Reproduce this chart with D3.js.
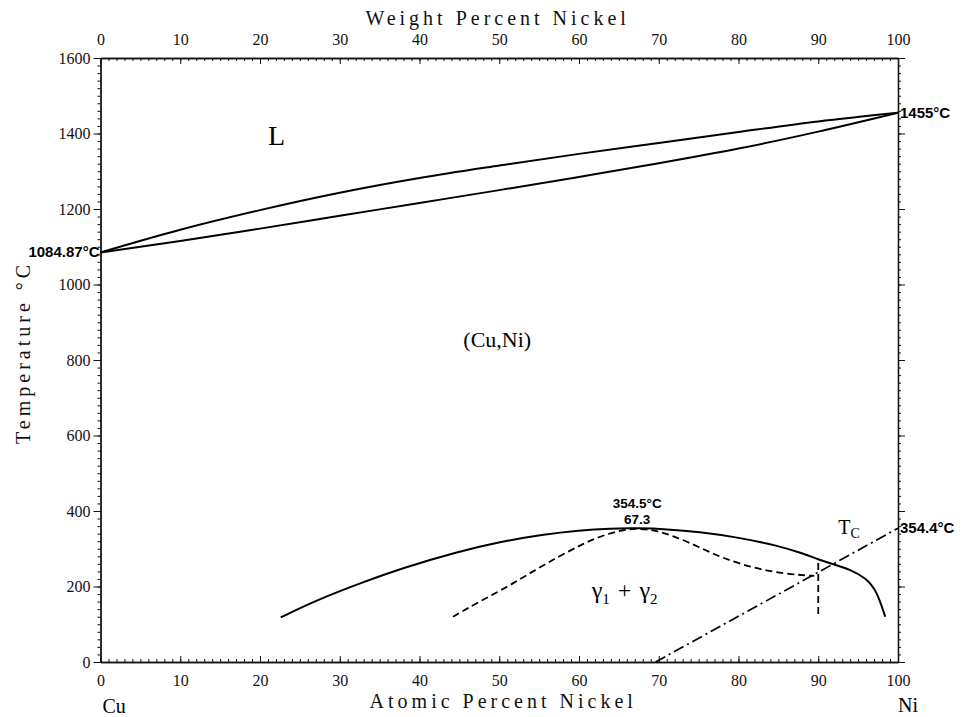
<!DOCTYPE html>
<html>
<head>
<meta charset="utf-8">
<script src="https://cdn.jsdelivr.net/npm/d3@7"></script>
<style>
	body { margin: 0; background: #fff; }
	.tick text { font-family: "Liberation Serif", "DejaVu Serif", serif; font-size: 16px; fill: #111; }
	.domain, .tick line { stroke: #111; }
	.title { font-family: "Liberation Serif", serif; font-size: 20px; letter-spacing: 4px; fill: #111; }
	.note { font-family: "Liberation Sans Narrow", "Liberation Sans", sans-serif; font-weight: bold; font-size: 15px; fill: #000; }
	.phase { font-family: "Liberation Serif", serif; fill: #000; }
	.curve { fill: none; stroke: #000; stroke-width: 2; }
</style>
</head>
<body>
<div id="container"></div>
<script>
// Cu-Ni phase diagram
var atomicTicks = [0, 10, 20, 30, 40, 50, 60, 70, 80, 90, 100];
var weightTicks = [0, 10, 20, 30, 40, 50, 60, 70, 80, 90, 100];
var tempTicks = [0, 200, 400, 600, 800, 1000, 1200, 1400, 1600];

// liquidus and solidus (at.% Ni, degC)
var liquidus = [[0, 1084.87], [10, 1145], [20, 1197], [30, 1243], [40, 1282], [50, 1315],
	[60, 1346], [70, 1375], [80, 1404], [90, 1432], [100, 1455]];
var solidus = [[0, 1084.87], [10, 1115], [20, 1148], [30, 1182], [40, 1216], [50, 1250],
	[60, 1285], [70, 1321], [80, 1360], [90, 1405], [100, 1455]];

// miscibility gap
var gapSolid = [[22.6, 118], [27, 163], [32.6, 209], [38, 250], [45, 293], [50, 318], [55.5, 338],
	[60, 349], [64, 354], [67.3, 354.5], [71, 352], [75, 345], [80, 330], [85, 308],
	[88, 288], [90, 272], [92, 258], [94, 245], [96, 222], [97.3, 190], [98.4, 120]];
var gapDashed = [[44.2, 120], [47.5, 160], [51.3, 202], [54.5, 244], [57.6, 281], [60.5, 313],
	[63, 336], [65.5, 350], [67.3, 354], [69.5, 349], [72, 333], [75, 305], [78, 275], [82, 248],
	[86, 233], [89.5, 228]];
var gapVertical = [[90, 262], [90, 118]];

// Curie temperature line
var curie = [[69.6, 0], [100, 354.4]];

var width = 964, height = 717;
var margin = {top: 58, right: 66, bottom: 55, left: 100.5};

var svg = d3.select("#container").append("svg")
	.attr("width", width)
	.attr("height", height);

var x = d3.scaleLinear().domain([0, 100]).range([margin.left, width - margin.right]);
var y = d3.scaleLinear().domain([0, 1600]).range([height - margin.bottom, margin.top]);

var minorX = d3.range(0, 101, 1);
var minorY = d3.range(0, 1601, 20);

// bottom axis
svg.append("g")
	.attr("transform", "translate(0," + y(0) + ")")
	.call(d3.axisBottom(x).tickValues(minorX).tickSizeInner(-3).tickSizeOuter(0).tickFormat(""));
svg.append("g")
	.attr("transform", "translate(0," + y(0) + ")")
	.call(d3.axisBottom(x).tickValues(atomicTicks).tickSizeInner(-6).tickSizeOuter(0).tickPadding(13).tickFormat(d3.format("d")));

// top axis
svg.append("g")
	.attr("transform", "translate(0," + y(1600) + ")")
	.call(d3.axisTop(x).tickValues(minorX).tickSizeInner(-3).tickSizeOuter(0).tickFormat(""));
svg.append("g")
	.attr("transform", "translate(0," + y(1600) + ")")
	.call(d3.axisTop(x).tickValues(weightTicks).tickSizeInner(-6).tickSizeOuter(0).tickPadding(13).tickFormat(d3.format("d")));

// left axis
svg.append("g")
	.attr("transform", "translate(" + x(0) + ",0)")
	.call(d3.axisLeft(y).tickValues(minorY).tickSizeInner(3).tickSizeOuter(0).tickFormat(""));
svg.append("g")
	.attr("transform", "translate(" + x(0) + ",0)")
	.call(d3.axisLeft(y).tickValues(tempTicks).tickSizeInner(7).tickSizeOuter(0).tickPadding(3).tickFormat(d3.format("d")));

// right axis
svg.append("g")
	.attr("transform", "translate(" + x(100) + ",0)")
	.call(d3.axisRight(y).tickValues(minorY).tickSizeInner(3).tickSizeOuter(0).tickFormat(""));
svg.append("g")
	.attr("transform", "translate(" + x(100) + ",0)")
	.call(d3.axisRight(y).tickValues(tempTicks).tickSizeInner(7).tickSizeOuter(0).tickFormat(""));

svg.selectAll(".domain").style("stroke-width", 1.3);

var line = d3.line()
	.x(function(d) { return x(d[0]); })
	.y(function(d) { return y(d[1]); })
	.curve(d3.curveMonotoneX);
var smooth = d3.line()
	.x(function(d) { return x(d[0]); })
	.y(function(d) { return y(d[1]); })
	.curve(d3.curveBasis);
var straight = d3.line()
	.x(function(d) { return x(d[0]); })
	.y(function(d) { return y(d[1]); });

svg.append("path").attr("class", "curve").attr("d", line(liquidus));
svg.append("path").attr("class", "curve").attr("d", line(solidus));
svg.append("path").attr("class", "curve").attr("d", smooth(gapSolid));
svg.append("path").attr("class", "curve")
	.style("stroke-width", 1.8)
	.style("stroke-dasharray", "7,4")
	.attr("d", smooth(gapDashed));
svg.append("path").attr("class", "curve")
	.style("stroke-width", 1.8)
	.style("stroke-dasharray", "7,4")
	.attr("d", straight(gapVertical));
svg.append("path").attr("class", "curve")
	.style("stroke-width", 1.7)
	.style("stroke-dasharray", "11,4,2,4")
	.attr("d", straight(curie));

// axis titles
svg.append("text").attr("class", "title")
	.attr("x", x(49.8)).attr("y", 25)
	.attr("text-anchor", "middle")
	.text("Weight Percent Nickel");
svg.append("text").attr("class", "title")
	.attr("x", x(50.5)).attr("y", 708)
	.attr("text-anchor", "middle")
	.text("Atomic Percent Nickel");
svg.append("text").attr("class", "title")
	.attr("transform", "translate(30," + y(820) + ") rotate(-90)")
	.attr("text-anchor", "middle")
	.text("Temperature °C");

svg.append("text").attr("class", "phase").style("font-size", "20px")
	.attr("x", x(0) + 2).attr("y", 713).text("Cu");
svg.append("text").attr("class", "phase").style("font-size", "20px")
	.attr("x", x(100)).attr("y", 712).text("Ni");

// phase labels
svg.append("text").attr("class", "phase").style("font-size", "28px")
	.attr("x", x(21)).attr("y", y(1370)).text("L");
svg.append("text").attr("class", "phase").style("font-size", "22px")
	.attr("x", x(45.5)).attr("y", y(834)).text("(Cu,Ni)");

var gam = svg.append("text").attr("class", "phase").style("font-size", "24px")
	.attr("x", x(61.6)).attr("y", y(170));
gam.append("tspan").text("γ");
gam.append("tspan").attr("dy", 6).style("font-size", "15px").text("1");
gam.append("tspan").attr("dy", -6).attr("dx", 8).text("+");
gam.append("tspan").attr("dx", 8).text("γ");
gam.append("tspan").attr("dy", 6).style("font-size", "15px").text("2");

var tc = svg.append("text").attr("class", "phase").style("font-size", "20px")
	.attr("x", x(92.5)).attr("y", y(340));
tc.append("tspan").text("T");
tc.append("tspan").attr("dy", 4).style("font-size", "14px").text("C");

// temperature notes
svg.append("text").attr("class", "note")
	.attr("x", x(100) + 2).attr("y", y(1455) + 5).text("1455°C");
svg.append("text").attr("class", "note")
	.attr("x", x(0) - 1).attr("y", y(1084.87) + 5).attr("text-anchor", "end").text("1084.87°C");
svg.append("text").attr("class", "note")
	.attr("x", x(100) + 2).attr("y", y(354.4) + 5).text("354.4°C");
svg.append("text").attr("class", "note").style("font-size", "13.5px")
	.attr("x", x(67.3)).attr("y", y(354.5) - 20).attr("text-anchor", "middle").text("354.5°C");
svg.append("text").attr("class", "note").style("font-size", "13.5px")
	.attr("x", x(67.3)).attr("y", y(354.5) - 4).attr("text-anchor", "middle").text("67.3");
</script>
</body>
</html>
